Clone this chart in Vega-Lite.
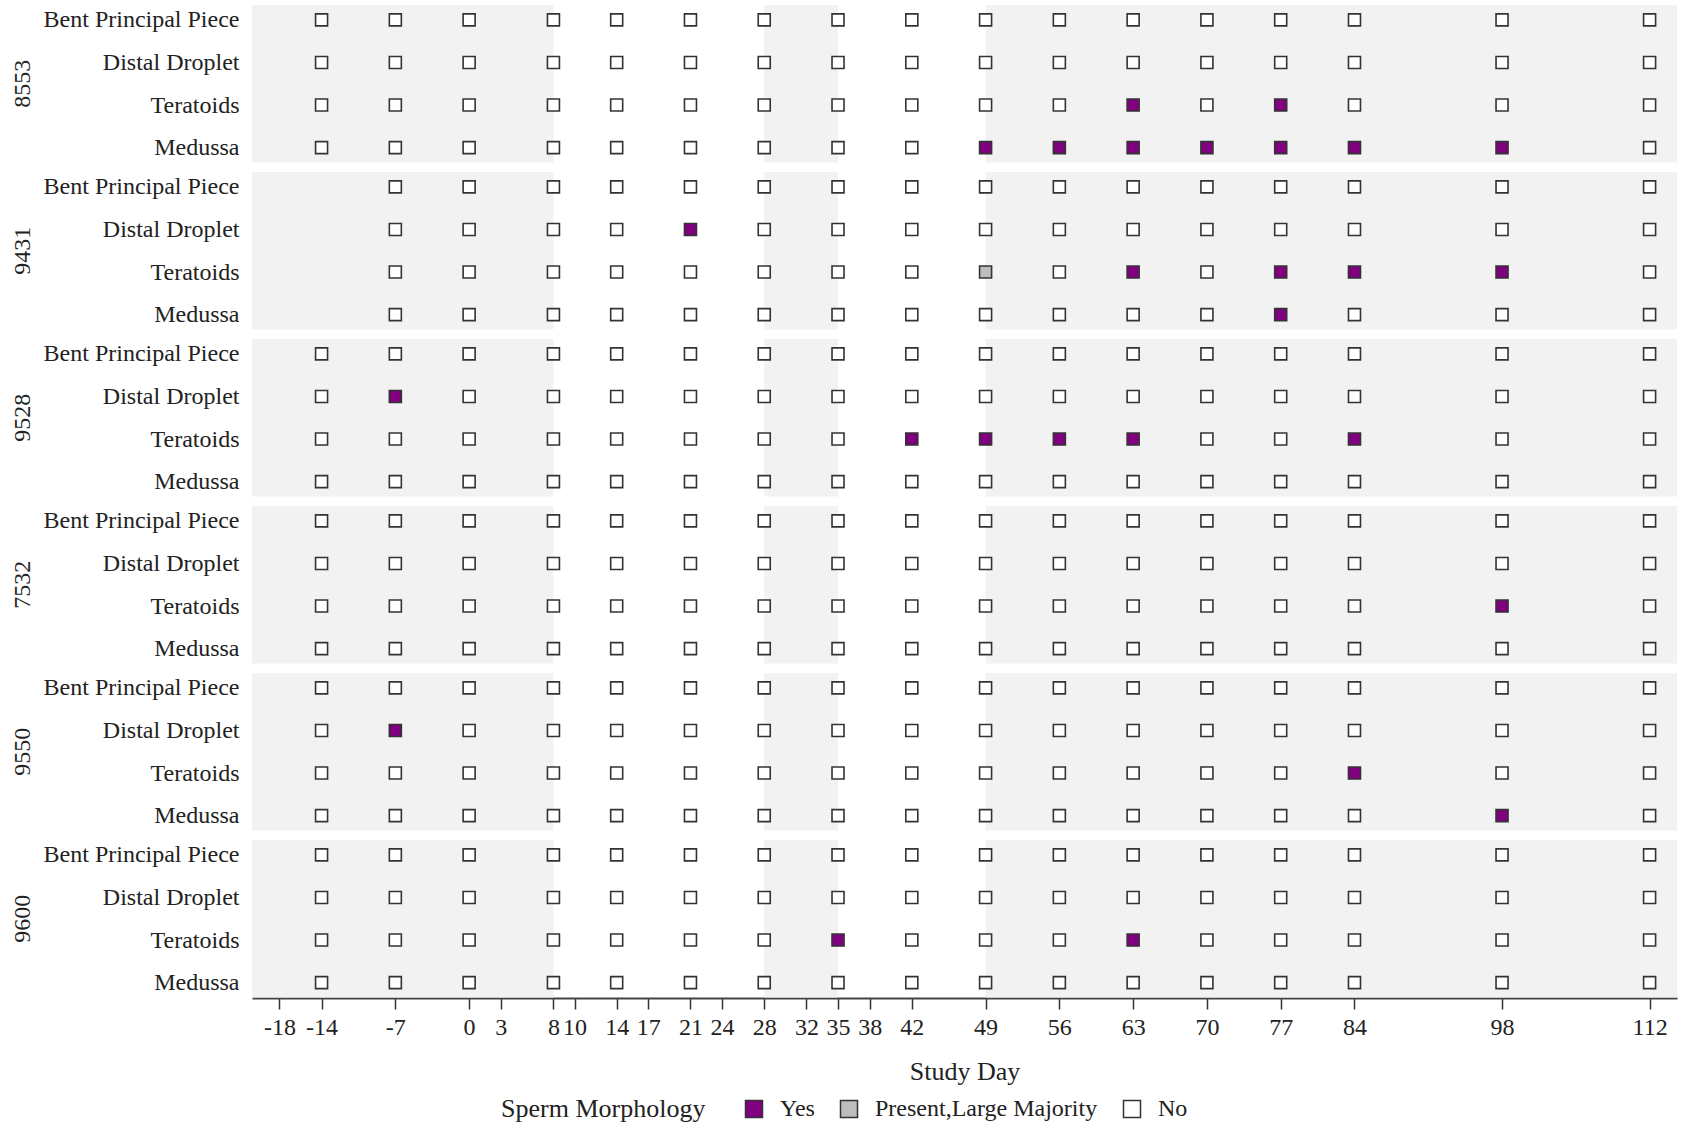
{
  "$schema": "https://vega.github.io/schema/vega-lite/v6.json",
  "background": "white",
  "padding": {"left": 11, "top": 5, "right": 5, "bottom": 5},
  "datasets": {
    "pts": [
      {"a":"8553","m":"Bent Principal Piece","d":-14,"v":"No"},{"a":"8553","m":"Bent Principal Piece","d":-7,"v":"No"},{"a":"8553","m":"Bent Principal Piece","d":0,"v":"No"},{"a":"8553","m":"Bent Principal Piece","d":8,"v":"No"},{"a":"8553","m":"Bent Principal Piece","d":14,"v":"No"},{"a":"8553","m":"Bent Principal Piece","d":21,"v":"No"},{"a":"8553","m":"Bent Principal Piece","d":28,"v":"No"},{"a":"8553","m":"Bent Principal Piece","d":35,"v":"No"},{"a":"8553","m":"Bent Principal Piece","d":42,"v":"No"},{"a":"8553","m":"Bent Principal Piece","d":49,"v":"No"},{"a":"8553","m":"Bent Principal Piece","d":56,"v":"No"},{"a":"8553","m":"Bent Principal Piece","d":63,"v":"No"},{"a":"8553","m":"Bent Principal Piece","d":70,"v":"No"},{"a":"8553","m":"Bent Principal Piece","d":77,"v":"No"},{"a":"8553","m":"Bent Principal Piece","d":84,"v":"No"},{"a":"8553","m":"Bent Principal Piece","d":98,"v":"No"},{"a":"8553","m":"Bent Principal Piece","d":112,"v":"No"},
      {"a":"8553","m":"Distal Droplet","d":-14,"v":"No"},{"a":"8553","m":"Distal Droplet","d":-7,"v":"No"},{"a":"8553","m":"Distal Droplet","d":0,"v":"No"},{"a":"8553","m":"Distal Droplet","d":8,"v":"No"},{"a":"8553","m":"Distal Droplet","d":14,"v":"No"},{"a":"8553","m":"Distal Droplet","d":21,"v":"No"},{"a":"8553","m":"Distal Droplet","d":28,"v":"No"},{"a":"8553","m":"Distal Droplet","d":35,"v":"No"},{"a":"8553","m":"Distal Droplet","d":42,"v":"No"},{"a":"8553","m":"Distal Droplet","d":49,"v":"No"},{"a":"8553","m":"Distal Droplet","d":56,"v":"No"},{"a":"8553","m":"Distal Droplet","d":63,"v":"No"},{"a":"8553","m":"Distal Droplet","d":70,"v":"No"},{"a":"8553","m":"Distal Droplet","d":77,"v":"No"},{"a":"8553","m":"Distal Droplet","d":84,"v":"No"},{"a":"8553","m":"Distal Droplet","d":98,"v":"No"},{"a":"8553","m":"Distal Droplet","d":112,"v":"No"},
      {"a":"8553","m":"Teratoids","d":-14,"v":"No"},{"a":"8553","m":"Teratoids","d":-7,"v":"No"},{"a":"8553","m":"Teratoids","d":0,"v":"No"},{"a":"8553","m":"Teratoids","d":8,"v":"No"},{"a":"8553","m":"Teratoids","d":14,"v":"No"},{"a":"8553","m":"Teratoids","d":21,"v":"No"},{"a":"8553","m":"Teratoids","d":28,"v":"No"},{"a":"8553","m":"Teratoids","d":35,"v":"No"},{"a":"8553","m":"Teratoids","d":42,"v":"No"},{"a":"8553","m":"Teratoids","d":49,"v":"No"},{"a":"8553","m":"Teratoids","d":56,"v":"No"},{"a":"8553","m":"Teratoids","d":63,"v":"Yes"},{"a":"8553","m":"Teratoids","d":70,"v":"No"},{"a":"8553","m":"Teratoids","d":77,"v":"Yes"},{"a":"8553","m":"Teratoids","d":84,"v":"No"},{"a":"8553","m":"Teratoids","d":98,"v":"No"},{"a":"8553","m":"Teratoids","d":112,"v":"No"},
      {"a":"8553","m":"Medussa","d":-14,"v":"No"},{"a":"8553","m":"Medussa","d":-7,"v":"No"},{"a":"8553","m":"Medussa","d":0,"v":"No"},{"a":"8553","m":"Medussa","d":8,"v":"No"},{"a":"8553","m":"Medussa","d":14,"v":"No"},{"a":"8553","m":"Medussa","d":21,"v":"No"},{"a":"8553","m":"Medussa","d":28,"v":"No"},{"a":"8553","m":"Medussa","d":35,"v":"No"},{"a":"8553","m":"Medussa","d":42,"v":"No"},{"a":"8553","m":"Medussa","d":49,"v":"Yes"},{"a":"8553","m":"Medussa","d":56,"v":"Yes"},{"a":"8553","m":"Medussa","d":63,"v":"Yes"},{"a":"8553","m":"Medussa","d":70,"v":"Yes"},{"a":"8553","m":"Medussa","d":77,"v":"Yes"},{"a":"8553","m":"Medussa","d":84,"v":"Yes"},{"a":"8553","m":"Medussa","d":98,"v":"Yes"},{"a":"8553","m":"Medussa","d":112,"v":"No"},

      {"a":"9431","m":"Bent Principal Piece","d":-7,"v":"No"},{"a":"9431","m":"Bent Principal Piece","d":0,"v":"No"},{"a":"9431","m":"Bent Principal Piece","d":8,"v":"No"},{"a":"9431","m":"Bent Principal Piece","d":14,"v":"No"},{"a":"9431","m":"Bent Principal Piece","d":21,"v":"No"},{"a":"9431","m":"Bent Principal Piece","d":28,"v":"No"},{"a":"9431","m":"Bent Principal Piece","d":35,"v":"No"},{"a":"9431","m":"Bent Principal Piece","d":42,"v":"No"},{"a":"9431","m":"Bent Principal Piece","d":49,"v":"No"},{"a":"9431","m":"Bent Principal Piece","d":56,"v":"No"},{"a":"9431","m":"Bent Principal Piece","d":63,"v":"No"},{"a":"9431","m":"Bent Principal Piece","d":70,"v":"No"},{"a":"9431","m":"Bent Principal Piece","d":77,"v":"No"},{"a":"9431","m":"Bent Principal Piece","d":84,"v":"No"},{"a":"9431","m":"Bent Principal Piece","d":98,"v":"No"},{"a":"9431","m":"Bent Principal Piece","d":112,"v":"No"},
      {"a":"9431","m":"Distal Droplet","d":-7,"v":"No"},{"a":"9431","m":"Distal Droplet","d":0,"v":"No"},{"a":"9431","m":"Distal Droplet","d":8,"v":"No"},{"a":"9431","m":"Distal Droplet","d":14,"v":"No"},{"a":"9431","m":"Distal Droplet","d":21,"v":"Yes"},{"a":"9431","m":"Distal Droplet","d":28,"v":"No"},{"a":"9431","m":"Distal Droplet","d":35,"v":"No"},{"a":"9431","m":"Distal Droplet","d":42,"v":"No"},{"a":"9431","m":"Distal Droplet","d":49,"v":"No"},{"a":"9431","m":"Distal Droplet","d":56,"v":"No"},{"a":"9431","m":"Distal Droplet","d":63,"v":"No"},{"a":"9431","m":"Distal Droplet","d":70,"v":"No"},{"a":"9431","m":"Distal Droplet","d":77,"v":"No"},{"a":"9431","m":"Distal Droplet","d":84,"v":"No"},{"a":"9431","m":"Distal Droplet","d":98,"v":"No"},{"a":"9431","m":"Distal Droplet","d":112,"v":"No"},
      {"a":"9431","m":"Teratoids","d":-7,"v":"No"},{"a":"9431","m":"Teratoids","d":0,"v":"No"},{"a":"9431","m":"Teratoids","d":8,"v":"No"},{"a":"9431","m":"Teratoids","d":14,"v":"No"},{"a":"9431","m":"Teratoids","d":21,"v":"No"},{"a":"9431","m":"Teratoids","d":28,"v":"No"},{"a":"9431","m":"Teratoids","d":35,"v":"No"},{"a":"9431","m":"Teratoids","d":42,"v":"No"},{"a":"9431","m":"Teratoids","d":49,"v":"Present,Large Majority"},{"a":"9431","m":"Teratoids","d":56,"v":"No"},{"a":"9431","m":"Teratoids","d":63,"v":"Yes"},{"a":"9431","m":"Teratoids","d":70,"v":"No"},{"a":"9431","m":"Teratoids","d":77,"v":"Yes"},{"a":"9431","m":"Teratoids","d":84,"v":"Yes"},{"a":"9431","m":"Teratoids","d":98,"v":"Yes"},{"a":"9431","m":"Teratoids","d":112,"v":"No"},
      {"a":"9431","m":"Medussa","d":-7,"v":"No"},{"a":"9431","m":"Medussa","d":0,"v":"No"},{"a":"9431","m":"Medussa","d":8,"v":"No"},{"a":"9431","m":"Medussa","d":14,"v":"No"},{"a":"9431","m":"Medussa","d":21,"v":"No"},{"a":"9431","m":"Medussa","d":28,"v":"No"},{"a":"9431","m":"Medussa","d":35,"v":"No"},{"a":"9431","m":"Medussa","d":42,"v":"No"},{"a":"9431","m":"Medussa","d":49,"v":"No"},{"a":"9431","m":"Medussa","d":56,"v":"No"},{"a":"9431","m":"Medussa","d":63,"v":"No"},{"a":"9431","m":"Medussa","d":70,"v":"No"},{"a":"9431","m":"Medussa","d":77,"v":"Yes"},{"a":"9431","m":"Medussa","d":84,"v":"No"},{"a":"9431","m":"Medussa","d":98,"v":"No"},{"a":"9431","m":"Medussa","d":112,"v":"No"},

      {"a":"9528","m":"Bent Principal Piece","d":-14,"v":"No"},{"a":"9528","m":"Bent Principal Piece","d":-7,"v":"No"},{"a":"9528","m":"Bent Principal Piece","d":0,"v":"No"},{"a":"9528","m":"Bent Principal Piece","d":8,"v":"No"},{"a":"9528","m":"Bent Principal Piece","d":14,"v":"No"},{"a":"9528","m":"Bent Principal Piece","d":21,"v":"No"},{"a":"9528","m":"Bent Principal Piece","d":28,"v":"No"},{"a":"9528","m":"Bent Principal Piece","d":35,"v":"No"},{"a":"9528","m":"Bent Principal Piece","d":42,"v":"No"},{"a":"9528","m":"Bent Principal Piece","d":49,"v":"No"},{"a":"9528","m":"Bent Principal Piece","d":56,"v":"No"},{"a":"9528","m":"Bent Principal Piece","d":63,"v":"No"},{"a":"9528","m":"Bent Principal Piece","d":70,"v":"No"},{"a":"9528","m":"Bent Principal Piece","d":77,"v":"No"},{"a":"9528","m":"Bent Principal Piece","d":84,"v":"No"},{"a":"9528","m":"Bent Principal Piece","d":98,"v":"No"},{"a":"9528","m":"Bent Principal Piece","d":112,"v":"No"},
      {"a":"9528","m":"Distal Droplet","d":-14,"v":"No"},{"a":"9528","m":"Distal Droplet","d":-7,"v":"Yes"},{"a":"9528","m":"Distal Droplet","d":0,"v":"No"},{"a":"9528","m":"Distal Droplet","d":8,"v":"No"},{"a":"9528","m":"Distal Droplet","d":14,"v":"No"},{"a":"9528","m":"Distal Droplet","d":21,"v":"No"},{"a":"9528","m":"Distal Droplet","d":28,"v":"No"},{"a":"9528","m":"Distal Droplet","d":35,"v":"No"},{"a":"9528","m":"Distal Droplet","d":42,"v":"No"},{"a":"9528","m":"Distal Droplet","d":49,"v":"No"},{"a":"9528","m":"Distal Droplet","d":56,"v":"No"},{"a":"9528","m":"Distal Droplet","d":63,"v":"No"},{"a":"9528","m":"Distal Droplet","d":70,"v":"No"},{"a":"9528","m":"Distal Droplet","d":77,"v":"No"},{"a":"9528","m":"Distal Droplet","d":84,"v":"No"},{"a":"9528","m":"Distal Droplet","d":98,"v":"No"},{"a":"9528","m":"Distal Droplet","d":112,"v":"No"},
      {"a":"9528","m":"Teratoids","d":-14,"v":"No"},{"a":"9528","m":"Teratoids","d":-7,"v":"No"},{"a":"9528","m":"Teratoids","d":0,"v":"No"},{"a":"9528","m":"Teratoids","d":8,"v":"No"},{"a":"9528","m":"Teratoids","d":14,"v":"No"},{"a":"9528","m":"Teratoids","d":21,"v":"No"},{"a":"9528","m":"Teratoids","d":28,"v":"No"},{"a":"9528","m":"Teratoids","d":35,"v":"No"},{"a":"9528","m":"Teratoids","d":42,"v":"Yes"},{"a":"9528","m":"Teratoids","d":49,"v":"Yes"},{"a":"9528","m":"Teratoids","d":56,"v":"Yes"},{"a":"9528","m":"Teratoids","d":63,"v":"Yes"},{"a":"9528","m":"Teratoids","d":70,"v":"No"},{"a":"9528","m":"Teratoids","d":77,"v":"No"},{"a":"9528","m":"Teratoids","d":84,"v":"Yes"},{"a":"9528","m":"Teratoids","d":98,"v":"No"},{"a":"9528","m":"Teratoids","d":112,"v":"No"},
      {"a":"9528","m":"Medussa","d":-14,"v":"No"},{"a":"9528","m":"Medussa","d":-7,"v":"No"},{"a":"9528","m":"Medussa","d":0,"v":"No"},{"a":"9528","m":"Medussa","d":8,"v":"No"},{"a":"9528","m":"Medussa","d":14,"v":"No"},{"a":"9528","m":"Medussa","d":21,"v":"No"},{"a":"9528","m":"Medussa","d":28,"v":"No"},{"a":"9528","m":"Medussa","d":35,"v":"No"},{"a":"9528","m":"Medussa","d":42,"v":"No"},{"a":"9528","m":"Medussa","d":49,"v":"No"},{"a":"9528","m":"Medussa","d":56,"v":"No"},{"a":"9528","m":"Medussa","d":63,"v":"No"},{"a":"9528","m":"Medussa","d":70,"v":"No"},{"a":"9528","m":"Medussa","d":77,"v":"No"},{"a":"9528","m":"Medussa","d":84,"v":"No"},{"a":"9528","m":"Medussa","d":98,"v":"No"},{"a":"9528","m":"Medussa","d":112,"v":"No"},

      {"a":"7532","m":"Bent Principal Piece","d":-14,"v":"No"},{"a":"7532","m":"Bent Principal Piece","d":-7,"v":"No"},{"a":"7532","m":"Bent Principal Piece","d":0,"v":"No"},{"a":"7532","m":"Bent Principal Piece","d":8,"v":"No"},{"a":"7532","m":"Bent Principal Piece","d":14,"v":"No"},{"a":"7532","m":"Bent Principal Piece","d":21,"v":"No"},{"a":"7532","m":"Bent Principal Piece","d":28,"v":"No"},{"a":"7532","m":"Bent Principal Piece","d":35,"v":"No"},{"a":"7532","m":"Bent Principal Piece","d":42,"v":"No"},{"a":"7532","m":"Bent Principal Piece","d":49,"v":"No"},{"a":"7532","m":"Bent Principal Piece","d":56,"v":"No"},{"a":"7532","m":"Bent Principal Piece","d":63,"v":"No"},{"a":"7532","m":"Bent Principal Piece","d":70,"v":"No"},{"a":"7532","m":"Bent Principal Piece","d":77,"v":"No"},{"a":"7532","m":"Bent Principal Piece","d":84,"v":"No"},{"a":"7532","m":"Bent Principal Piece","d":98,"v":"No"},{"a":"7532","m":"Bent Principal Piece","d":112,"v":"No"},
      {"a":"7532","m":"Distal Droplet","d":-14,"v":"No"},{"a":"7532","m":"Distal Droplet","d":-7,"v":"No"},{"a":"7532","m":"Distal Droplet","d":0,"v":"No"},{"a":"7532","m":"Distal Droplet","d":8,"v":"No"},{"a":"7532","m":"Distal Droplet","d":14,"v":"No"},{"a":"7532","m":"Distal Droplet","d":21,"v":"No"},{"a":"7532","m":"Distal Droplet","d":28,"v":"No"},{"a":"7532","m":"Distal Droplet","d":35,"v":"No"},{"a":"7532","m":"Distal Droplet","d":42,"v":"No"},{"a":"7532","m":"Distal Droplet","d":49,"v":"No"},{"a":"7532","m":"Distal Droplet","d":56,"v":"No"},{"a":"7532","m":"Distal Droplet","d":63,"v":"No"},{"a":"7532","m":"Distal Droplet","d":70,"v":"No"},{"a":"7532","m":"Distal Droplet","d":77,"v":"No"},{"a":"7532","m":"Distal Droplet","d":84,"v":"No"},{"a":"7532","m":"Distal Droplet","d":98,"v":"No"},{"a":"7532","m":"Distal Droplet","d":112,"v":"No"},
      {"a":"7532","m":"Teratoids","d":-14,"v":"No"},{"a":"7532","m":"Teratoids","d":-7,"v":"No"},{"a":"7532","m":"Teratoids","d":0,"v":"No"},{"a":"7532","m":"Teratoids","d":8,"v":"No"},{"a":"7532","m":"Teratoids","d":14,"v":"No"},{"a":"7532","m":"Teratoids","d":21,"v":"No"},{"a":"7532","m":"Teratoids","d":28,"v":"No"},{"a":"7532","m":"Teratoids","d":35,"v":"No"},{"a":"7532","m":"Teratoids","d":42,"v":"No"},{"a":"7532","m":"Teratoids","d":49,"v":"No"},{"a":"7532","m":"Teratoids","d":56,"v":"No"},{"a":"7532","m":"Teratoids","d":63,"v":"No"},{"a":"7532","m":"Teratoids","d":70,"v":"No"},{"a":"7532","m":"Teratoids","d":77,"v":"No"},{"a":"7532","m":"Teratoids","d":84,"v":"No"},{"a":"7532","m":"Teratoids","d":98,"v":"Yes"},{"a":"7532","m":"Teratoids","d":112,"v":"No"},
      {"a":"7532","m":"Medussa","d":-14,"v":"No"},{"a":"7532","m":"Medussa","d":-7,"v":"No"},{"a":"7532","m":"Medussa","d":0,"v":"No"},{"a":"7532","m":"Medussa","d":8,"v":"No"},{"a":"7532","m":"Medussa","d":14,"v":"No"},{"a":"7532","m":"Medussa","d":21,"v":"No"},{"a":"7532","m":"Medussa","d":28,"v":"No"},{"a":"7532","m":"Medussa","d":35,"v":"No"},{"a":"7532","m":"Medussa","d":42,"v":"No"},{"a":"7532","m":"Medussa","d":49,"v":"No"},{"a":"7532","m":"Medussa","d":56,"v":"No"},{"a":"7532","m":"Medussa","d":63,"v":"No"},{"a":"7532","m":"Medussa","d":70,"v":"No"},{"a":"7532","m":"Medussa","d":77,"v":"No"},{"a":"7532","m":"Medussa","d":84,"v":"No"},{"a":"7532","m":"Medussa","d":98,"v":"No"},{"a":"7532","m":"Medussa","d":112,"v":"No"},

      {"a":"9550","m":"Bent Principal Piece","d":-14,"v":"No"},{"a":"9550","m":"Bent Principal Piece","d":-7,"v":"No"},{"a":"9550","m":"Bent Principal Piece","d":0,"v":"No"},{"a":"9550","m":"Bent Principal Piece","d":8,"v":"No"},{"a":"9550","m":"Bent Principal Piece","d":14,"v":"No"},{"a":"9550","m":"Bent Principal Piece","d":21,"v":"No"},{"a":"9550","m":"Bent Principal Piece","d":28,"v":"No"},{"a":"9550","m":"Bent Principal Piece","d":35,"v":"No"},{"a":"9550","m":"Bent Principal Piece","d":42,"v":"No"},{"a":"9550","m":"Bent Principal Piece","d":49,"v":"No"},{"a":"9550","m":"Bent Principal Piece","d":56,"v":"No"},{"a":"9550","m":"Bent Principal Piece","d":63,"v":"No"},{"a":"9550","m":"Bent Principal Piece","d":70,"v":"No"},{"a":"9550","m":"Bent Principal Piece","d":77,"v":"No"},{"a":"9550","m":"Bent Principal Piece","d":84,"v":"No"},{"a":"9550","m":"Bent Principal Piece","d":98,"v":"No"},{"a":"9550","m":"Bent Principal Piece","d":112,"v":"No"},
      {"a":"9550","m":"Distal Droplet","d":-14,"v":"No"},{"a":"9550","m":"Distal Droplet","d":-7,"v":"Yes"},{"a":"9550","m":"Distal Droplet","d":0,"v":"No"},{"a":"9550","m":"Distal Droplet","d":8,"v":"No"},{"a":"9550","m":"Distal Droplet","d":14,"v":"No"},{"a":"9550","m":"Distal Droplet","d":21,"v":"No"},{"a":"9550","m":"Distal Droplet","d":28,"v":"No"},{"a":"9550","m":"Distal Droplet","d":35,"v":"No"},{"a":"9550","m":"Distal Droplet","d":42,"v":"No"},{"a":"9550","m":"Distal Droplet","d":49,"v":"No"},{"a":"9550","m":"Distal Droplet","d":56,"v":"No"},{"a":"9550","m":"Distal Droplet","d":63,"v":"No"},{"a":"9550","m":"Distal Droplet","d":70,"v":"No"},{"a":"9550","m":"Distal Droplet","d":77,"v":"No"},{"a":"9550","m":"Distal Droplet","d":84,"v":"No"},{"a":"9550","m":"Distal Droplet","d":98,"v":"No"},{"a":"9550","m":"Distal Droplet","d":112,"v":"No"},
      {"a":"9550","m":"Teratoids","d":-14,"v":"No"},{"a":"9550","m":"Teratoids","d":-7,"v":"No"},{"a":"9550","m":"Teratoids","d":0,"v":"No"},{"a":"9550","m":"Teratoids","d":8,"v":"No"},{"a":"9550","m":"Teratoids","d":14,"v":"No"},{"a":"9550","m":"Teratoids","d":21,"v":"No"},{"a":"9550","m":"Teratoids","d":28,"v":"No"},{"a":"9550","m":"Teratoids","d":35,"v":"No"},{"a":"9550","m":"Teratoids","d":42,"v":"No"},{"a":"9550","m":"Teratoids","d":49,"v":"No"},{"a":"9550","m":"Teratoids","d":56,"v":"No"},{"a":"9550","m":"Teratoids","d":63,"v":"No"},{"a":"9550","m":"Teratoids","d":70,"v":"No"},{"a":"9550","m":"Teratoids","d":77,"v":"No"},{"a":"9550","m":"Teratoids","d":84,"v":"Yes"},{"a":"9550","m":"Teratoids","d":98,"v":"No"},{"a":"9550","m":"Teratoids","d":112,"v":"No"},
      {"a":"9550","m":"Medussa","d":-14,"v":"No"},{"a":"9550","m":"Medussa","d":-7,"v":"No"},{"a":"9550","m":"Medussa","d":0,"v":"No"},{"a":"9550","m":"Medussa","d":8,"v":"No"},{"a":"9550","m":"Medussa","d":14,"v":"No"},{"a":"9550","m":"Medussa","d":21,"v":"No"},{"a":"9550","m":"Medussa","d":28,"v":"No"},{"a":"9550","m":"Medussa","d":35,"v":"No"},{"a":"9550","m":"Medussa","d":42,"v":"No"},{"a":"9550","m":"Medussa","d":49,"v":"No"},{"a":"9550","m":"Medussa","d":56,"v":"No"},{"a":"9550","m":"Medussa","d":63,"v":"No"},{"a":"9550","m":"Medussa","d":70,"v":"No"},{"a":"9550","m":"Medussa","d":77,"v":"No"},{"a":"9550","m":"Medussa","d":84,"v":"No"},{"a":"9550","m":"Medussa","d":98,"v":"Yes"},{"a":"9550","m":"Medussa","d":112,"v":"No"},

      {"a":"9600","m":"Bent Principal Piece","d":-14,"v":"No"},{"a":"9600","m":"Bent Principal Piece","d":-7,"v":"No"},{"a":"9600","m":"Bent Principal Piece","d":0,"v":"No"},{"a":"9600","m":"Bent Principal Piece","d":8,"v":"No"},{"a":"9600","m":"Bent Principal Piece","d":14,"v":"No"},{"a":"9600","m":"Bent Principal Piece","d":21,"v":"No"},{"a":"9600","m":"Bent Principal Piece","d":28,"v":"No"},{"a":"9600","m":"Bent Principal Piece","d":35,"v":"No"},{"a":"9600","m":"Bent Principal Piece","d":42,"v":"No"},{"a":"9600","m":"Bent Principal Piece","d":49,"v":"No"},{"a":"9600","m":"Bent Principal Piece","d":56,"v":"No"},{"a":"9600","m":"Bent Principal Piece","d":63,"v":"No"},{"a":"9600","m":"Bent Principal Piece","d":70,"v":"No"},{"a":"9600","m":"Bent Principal Piece","d":77,"v":"No"},{"a":"9600","m":"Bent Principal Piece","d":84,"v":"No"},{"a":"9600","m":"Bent Principal Piece","d":98,"v":"No"},{"a":"9600","m":"Bent Principal Piece","d":112,"v":"No"},
      {"a":"9600","m":"Distal Droplet","d":-14,"v":"No"},{"a":"9600","m":"Distal Droplet","d":-7,"v":"No"},{"a":"9600","m":"Distal Droplet","d":0,"v":"No"},{"a":"9600","m":"Distal Droplet","d":8,"v":"No"},{"a":"9600","m":"Distal Droplet","d":14,"v":"No"},{"a":"9600","m":"Distal Droplet","d":21,"v":"No"},{"a":"9600","m":"Distal Droplet","d":28,"v":"No"},{"a":"9600","m":"Distal Droplet","d":35,"v":"No"},{"a":"9600","m":"Distal Droplet","d":42,"v":"No"},{"a":"9600","m":"Distal Droplet","d":49,"v":"No"},{"a":"9600","m":"Distal Droplet","d":56,"v":"No"},{"a":"9600","m":"Distal Droplet","d":63,"v":"No"},{"a":"9600","m":"Distal Droplet","d":70,"v":"No"},{"a":"9600","m":"Distal Droplet","d":77,"v":"No"},{"a":"9600","m":"Distal Droplet","d":84,"v":"No"},{"a":"9600","m":"Distal Droplet","d":98,"v":"No"},{"a":"9600","m":"Distal Droplet","d":112,"v":"No"},
      {"a":"9600","m":"Teratoids","d":-14,"v":"No"},{"a":"9600","m":"Teratoids","d":-7,"v":"No"},{"a":"9600","m":"Teratoids","d":0,"v":"No"},{"a":"9600","m":"Teratoids","d":8,"v":"No"},{"a":"9600","m":"Teratoids","d":14,"v":"No"},{"a":"9600","m":"Teratoids","d":21,"v":"No"},{"a":"9600","m":"Teratoids","d":28,"v":"No"},{"a":"9600","m":"Teratoids","d":35,"v":"Yes"},{"a":"9600","m":"Teratoids","d":42,"v":"No"},{"a":"9600","m":"Teratoids","d":49,"v":"No"},{"a":"9600","m":"Teratoids","d":56,"v":"No"},{"a":"9600","m":"Teratoids","d":63,"v":"Yes"},{"a":"9600","m":"Teratoids","d":70,"v":"No"},{"a":"9600","m":"Teratoids","d":77,"v":"No"},{"a":"9600","m":"Teratoids","d":84,"v":"No"},{"a":"9600","m":"Teratoids","d":98,"v":"No"},{"a":"9600","m":"Teratoids","d":112,"v":"No"},
      {"a":"9600","m":"Medussa","d":-14,"v":"No"},{"a":"9600","m":"Medussa","d":-7,"v":"No"},{"a":"9600","m":"Medussa","d":0,"v":"No"},{"a":"9600","m":"Medussa","d":8,"v":"No"},{"a":"9600","m":"Medussa","d":14,"v":"No"},{"a":"9600","m":"Medussa","d":21,"v":"No"},{"a":"9600","m":"Medussa","d":28,"v":"No"},{"a":"9600","m":"Medussa","d":35,"v":"No"},{"a":"9600","m":"Medussa","d":42,"v":"No"},{"a":"9600","m":"Medussa","d":49,"v":"No"},{"a":"9600","m":"Medussa","d":56,"v":"No"},{"a":"9600","m":"Medussa","d":63,"v":"No"},{"a":"9600","m":"Medussa","d":70,"v":"No"},{"a":"9600","m":"Medussa","d":77,"v":"No"},{"a":"9600","m":"Medussa","d":84,"v":"No"},{"a":"9600","m":"Medussa","d":98,"v":"No"},{"a":"9600","m":"Medussa","d":112,"v":"No"},

      {"a":"8553","bs":-20.6,"be":8},{"a":"8553","bs":28,"be":35},{"a":"8553","bs":49,"be":114.6},
      {"a":"9431","bs":-20.6,"be":8},{"a":"9431","bs":28,"be":35},{"a":"9431","bs":49,"be":114.6},
      {"a":"9528","bs":-20.6,"be":8},{"a":"9528","bs":28,"be":35},{"a":"9528","bs":49,"be":114.6},
      {"a":"7532","bs":-20.6,"be":8},{"a":"7532","bs":28,"be":35},{"a":"7532","bs":49,"be":114.6},
      {"a":"9550","bs":-20.6,"be":8},{"a":"9550","bs":28,"be":35},{"a":"9550","bs":49,"be":114.6},
      {"a":"9600","bs":-20.6,"be":8},{"a":"9600","bs":28,"be":35},{"a":"9600","bs":49,"be":114.6}
    ]
  },
  "data": {"name": "pts"},
  "facet": {
    "row": {
      "field": "a",
      "type": "nominal",
      "sort": ["8553", "9431", "9528", "7532", "9550", "9600"],
      "title": null,
      "header": {"labelAngle": -90, "labelOrient": "left", "labelFontSize": 24, "labelFont": "Liberation Serif", "labelColor": "#222", "labelPadding": -4}
    }
  },
  "spacing": 9,
  "spec": {
    "width": 1425,
    "height": 157.5,
    "layer": [
      {
        "transform": [{"filter": "isValid(datum.bs)"}],
        "mark": {"type": "rect", "color": "#f2f2f2"},
        "encoding": {
          "x": {"field": "bs", "type": "quantitative", "scale": {"domain": [-20.6, 114.6], "nice": false, "zero": false}, "title": "Study Day",
            "axis": {"values": [-18, -14, -7, 0, 3, 8, 10, 14, 17, 21, 24, 28, 32, 35, 38, 42, 49, 56, 63, 70, 77, 84, 98, 112], "labelExpr": "toString(datum.value)"}},
          "x2": {"field": "be"}
        }
      },
      {
        "transform": [{"filter": "isValid(datum.d)"}],
        "mark": {"type": "square", "size": 144, "stroke": "#333", "strokeWidth": 1.6, "opacity": 1},
        "encoding": {
          "x": {"field": "d", "type": "quantitative", "scale": {"domain": [-20.6, 114.6], "nice": false, "zero": false}, "title": "Study Day",
            "axis": {"values": [-18, -14, -7, 0, 3, 8, 10, 14, 17, 21, 24, 28, 32, 35, 38, 42, 49, 56, 63, 70, 77, 84, 98, 112], "labelExpr": "toString(datum.value)"}},
          "y": {"field": "m", "type": "nominal", "sort": ["Bent Principal Piece", "Distal Droplet", "Teratoids", "Medussa"], "scale": {"type": "point", "padding": 0.35}, "title": null},
          "color": {"field": "v", "type": "nominal", "title": "Sperm Morphology",
            "scale": {"domain": ["Yes", "Present,Large Majority", "No"], "range": ["#800080", "#bdbdbd", "#ffffff"]},
            "legend": {"orient": "none", "legendX": 249, "legendY": 1092}}
        }
      }
    ]
  },
  "config": {
    "font": "Liberation Serif",
    "view": {"stroke": null},
    "axisX": {"grid": false, "domainColor": "#444", "domainWidth": 2, "tickColor": "#333", "tickWidth": 1.5, "tickSize": 11, "labelFontSize": 24, "labelColor": "#222", "labelPadding": 6, "labelOverlap": false, "labelFlush": false, "labelBound": false, "titleFontSize": 26, "titleFontWeight": "normal", "titleColor": "#222", "titlePadding": 19},
    "axisY": {"grid": false, "domain": false, "ticks": false, "labelFontSize": 24, "labelColor": "#222", "labelPadding": 13, "labelLimit": 0},
    "legend": {"direction": "horizontal", "titleOrient": "left", "titleFontSize": 26, "titleFontWeight": "normal", "titleColor": "#222", "titleLimit": 0, "labelLimit": 0, "labelFontSize": 24, "labelColor": "#222", "symbolType": "square", "symbolSize": 289, "symbolStrokeWidth": 1.5, "labelOffset": 14, "columnPadding": 22, "titlePadding": 36}
  }
}
